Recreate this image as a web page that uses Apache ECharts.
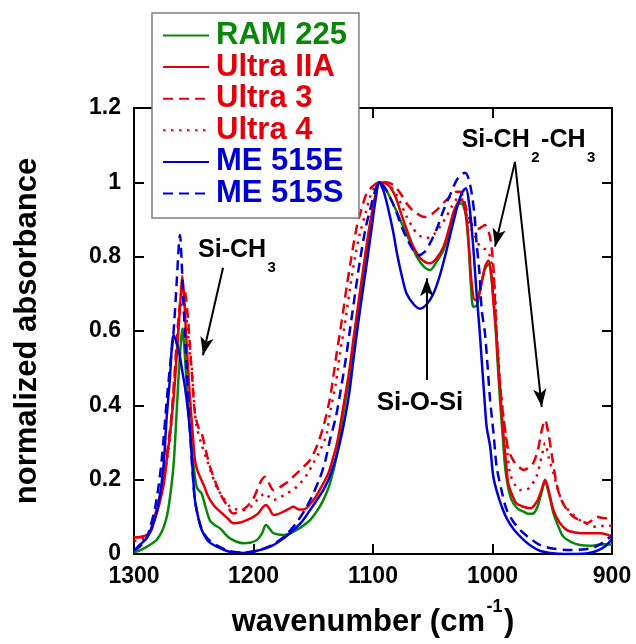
<!DOCTYPE html>
<html><head><meta charset="utf-8">
<script src="https://cdn.jsdelivr.net/npm/echarts@6/dist/echarts.min.js"></script>
<style>html,body{margin:0;padding:0;background:#fff}#c{width:636px;height:644px}</style>
</head><body><div id="c"></div>
<script>
// ---------------- data ----------------
const seriesNames = ['RAM 225', 'Ultra IIA', 'Ultra 3', 'Ultra 4', 'ME 515E', 'ME 515S'];
const xTickValues = [1300, 1200, 1100, 1000, 900];
const yTickValues = [0, 0.2, 0.4, 0.6, 0.8, 1, 1.2];

const ram225_wn = [1300,1295,1288,1281,1276,1272.6,1270,1267,1265,1263,1261,1259.6,1258,1256,1254,1251.7,1249.5,1247.5,1245.5,1243.4,1240,1236.4,1232,1228,1224,1219.7,1214,1208.5,1202,1197,1193,1189.5,1186,1183.4,1175,1170,1163.8,1158,1152.7,1147,1141.6,1136,1130,1124.9,1120,1116.5,1112,1108,1104,1101,1098,1094.7,1090,1085.8,1080,1074.6,1069,1063.4,1058,1052.3,1047,1041,1036,1032.8,1029,1026,1022.5,1020,1018,1016,1013,1010,1006.5,1003.4,1000.5,998,996,993.7,991.5,989.5,987,984,979,974,970,966,962,959,956,953,949,945,940.8,934,926.8,918,913,906,900];
const ram225_abs = [0.005,0.01,0.022,0.038,0.065,0.1,0.15,0.235,0.34,0.46,0.56,0.607,0.56,0.46,0.37,0.28,0.22,0.18,0.17,0.163,0.125,0.09,0.077,0.069,0.055,0.042,0.033,0.029,0.031,0.038,0.055,0.078,0.066,0.056,0.051,0.055,0.065,0.077,0.091,0.115,0.145,0.19,0.27,0.378,0.47,0.558,0.66,0.755,0.85,0.907,0.96,1.0,0.985,0.96,0.92,0.88,0.84,0.80,0.775,0.764,0.785,0.818,0.87,0.917,0.94,0.943,0.915,0.83,0.72,0.665,0.67,0.72,0.765,0.78,0.73,0.638,0.53,0.414,0.32,0.235,0.18,0.145,0.122,0.114,0.108,0.109,0.13,0.165,0.195,0.165,0.11,0.075,0.047,0.032,0.024,0.022,0.024,0.026,0.025];

const ultra2a_wn = [1300,1295,1290,1286,1283.8,1281,1278,1275,1272.6,1270,1267,1265,1263,1261,1259.6,1258,1256.5,1254.8,1253,1251,1249,1247,1244.8,1241,1237.8,1233,1228,1222,1217,1211,1205.7,1200,1196,1192.5,1189.5,1186,1183.4,1179,1175,1170,1166.7,1162,1158,1150,1145,1138.7,1136,1130,1124.9,1120,1116.5,1112,1108,1104,1101,1098,1094.5,1090,1085.8,1081,1077.4,1072,1066.3,1060,1052.3,1047,1041,1036,1032.8,1029,1025.9,1022.5,1020,1017.5,1014.7,1012,1009,1006,1003.4,1001,999.4,997,995,993,991,988.8,986.8,983,980,974,968.6,963,959,956,953,949,944,938,931,924,917,910,904,900];
const ultra2a_abs = [0.045,0.046,0.05,0.06,0.083,0.11,0.145,0.19,0.253,0.32,0.414,0.5,0.594,0.69,0.748,0.69,0.594,0.5,0.414,0.33,0.253,0.225,0.208,0.18,0.154,0.13,0.114,0.097,0.083,0.085,0.091,0.1,0.109,0.125,0.132,0.118,0.105,0.108,0.114,0.122,0.127,0.12,0.12,0.145,0.17,0.208,0.23,0.3,0.395,0.49,0.575,0.68,0.772,0.86,0.916,0.965,1.0,0.998,0.988,0.96,0.925,0.875,0.827,0.795,0.782,0.795,0.827,0.88,0.917,0.945,0.952,0.92,0.84,0.73,0.683,0.69,0.73,0.775,0.79,0.755,0.683,0.6,0.504,0.41,0.325,0.25,0.19,0.155,0.136,0.127,0.123,0.14,0.172,0.2,0.17,0.118,0.085,0.065,0.058,0.056,0.056,0.056,0.052,0.047];

const ultra3_wn = [1300,1295,1290,1286,1284,1281,1278,1275,1272,1269,1267,1264.5,1262,1259,1257,1255,1253,1251,1249,1246,1243.4,1240,1236.4,1232,1228,1222,1217,1211,1205.7,1200,1196,1193,1190.4,1187,1183.4,1179,1175,1170,1163.8,1158,1152.7,1147,1141.6,1136,1130.4,1126,1122,1118,1113.6,1109,1105.3,1100,1095,1089,1083,1077,1071.8,1067,1063.4,1060,1056.5,1052,1046.7,1041,1035.6,1030,1027,1024,1021.7,1019,1016,1012,1009,1006.3,1003,1000.8,999,998,996.5,995,993,991,988.8,986.8,984,981,977,974,970,966,962,959,956,953,950.5,947,943.5,938,932.4,926,921,917,913,908,904.5,900];
const ultra3_abs = [0.045,0.045,0.05,0.065,0.09,0.12,0.16,0.21,0.28,0.36,0.44,0.56,0.66,0.72,0.70,0.64,0.55,0.46,0.378,0.34,0.325,0.28,0.235,0.195,0.163,0.13,0.109,0.115,0.127,0.15,0.18,0.2,0.208,0.19,0.172,0.178,0.186,0.198,0.217,0.235,0.253,0.29,0.342,0.42,0.54,0.63,0.72,0.80,0.88,0.935,0.97,0.99,1.0,1.0,0.993,0.97,0.943,0.925,0.917,0.91,0.907,0.912,0.925,0.945,0.961,0.975,0.975,0.955,0.925,0.9,0.88,0.875,0.88,0.885,0.865,0.827,0.76,0.683,0.59,0.504,0.43,0.37,0.32,0.28,0.26,0.244,0.232,0.226,0.232,0.244,0.28,0.33,0.36,0.32,0.27,0.2,0.154,0.12,0.10,0.09,0.083,0.09,0.1,0.097,0.096,0.1];

const ultra4_wn = [1300,1295,1290,1286,1284,1281,1278,1275,1272,1269,1267,1264.5,1262,1259,1257,1255,1253,1251.7,1249.5,1247.5,1243,1239,1235,1230.8,1225,1219.7,1214,1208.5,1202,1197,1193,1190,1186.5,1183.4,1178,1172.2,1166,1161,1155,1150,1144,1138.7,1136,1131,1127.6,1123,1119,1115,1110.9,1106,1102.5,1099,1095,1089,1083,1077,1071.8,1067,1063.4,1059,1055,1049,1044,1039,1034.3,1030,1027,1024,1021,1018,1016,1013,1010.5,1007.5,1004.9,1002,999.4,997.5,996.5,995,993.7,991.5,989.5,987.5,985.3,981,977,973,968.6,963,959,956,953,949,945,940.8,934,926.8,920,913,906,900];
const ultra4_abs = [0.035,0.038,0.045,0.06,0.08,0.11,0.15,0.2,0.26,0.34,0.43,0.54,0.64,0.69,0.66,0.6,0.53,0.504,0.4,0.342,0.29,0.253,0.215,0.18,0.15,0.127,0.12,0.118,0.128,0.145,0.158,0.163,0.152,0.145,0.152,0.163,0.175,0.19,0.215,0.244,0.28,0.325,0.38,0.46,0.54,0.63,0.72,0.8,0.863,0.92,0.96,0.985,1.0,0.997,0.98,0.945,0.907,0.88,0.863,0.853,0.85,0.86,0.88,0.905,0.934,0.955,0.96,0.94,0.905,0.875,0.863,0.845,0.827,0.822,0.818,0.8,0.755,0.68,0.594,0.53,0.46,0.39,0.325,0.27,0.217,0.185,0.172,0.172,0.18,0.21,0.26,0.298,0.26,0.217,0.17,0.136,0.11,0.091,0.08,0.073,0.076,0.076];

const me515e_wn = [1300,1295,1290,1286.6,1282,1278,1275,1272.6,1270,1268.5,1267,1264,1261.5,1259.5,1257.4,1255,1253,1251,1249,1246,1243.4,1238,1230.8,1220,1209,1198,1186,1178,1169.5,1160,1152.7,1146,1141.6,1136,1130,1124.9,1120,1116.5,1112,1108,1104,1101,1098,1094.7,1091,1087,1083,1080,1076,1071.8,1066,1060.7,1055,1049.5,1044,1038.4,1033,1028.7,1025,1022.2,1019.5,1017.5,1015.5,1013.3,1011,1009,1007,1004.9,1002,999.4,996.5,992,988,982,974,967,960,950,940,930,920,913,906,900];
const me515e_abs = [0.008,0.025,0.04,0.06,0.1,0.164,0.25,0.37,0.47,0.55,0.589,0.565,0.53,0.49,0.45,0.39,0.325,0.23,0.145,0.095,0.065,0.035,0.02,0.006,0.003,0.008,0.02,0.035,0.056,0.085,0.118,0.15,0.172,0.21,0.27,0.342,0.43,0.52,0.63,0.72,0.81,0.88,0.95,1.0,0.975,0.925,0.865,0.81,0.75,0.70,0.672,0.66,0.672,0.70,0.75,0.818,0.89,0.943,0.975,0.984,0.94,0.88,0.80,0.70,0.61,0.52,0.43,0.342,0.29,0.21,0.17,0.125,0.095,0.065,0.038,0.02,0.008,0.002,0.0,0.0,0.002,0.008,0.02,0.04];

const me515s_wn = [1300,1295,1290,1286.6,1282,1278,1275.5,1272.6,1270,1267,1264.3,1262.5,1261.5,1260.3,1258.7,1256,1253,1251,1249,1246,1243,1238,1230,1220,1209,1198,1186,1175,1165,1155,1145,1140,1136,1131,1127.6,1123,1119,1115,1110.9,1106,1102.5,1098.5,1094.7,1090,1085.8,1081,1076,1071,1066.3,1062,1057,1052.3,1046,1041,1035,1030,1026,1023,1020,1017.4,1015,1013.3,1011,1009,1006.3,1004,1002,999,996.5,992,988,981,974,967,960,950,938,925,915,908,900];
const me515s_abs = [0.01,0.02,0.04,0.07,0.13,0.218,0.3,0.414,0.5,0.594,0.73,0.83,0.858,0.8,0.68,0.504,0.325,0.22,0.145,0.095,0.065,0.04,0.022,0.008,0.004,0.008,0.022,0.045,0.08,0.13,0.2,0.25,0.307,0.37,0.43,0.52,0.61,0.7,0.79,0.88,0.925,0.975,1.0,0.985,0.96,0.925,0.88,0.845,0.818,0.804,0.812,0.836,0.88,0.925,0.97,1.006,1.02,1.026,1.01,0.97,0.91,0.836,0.76,0.656,0.594,0.5,0.414,0.32,0.235,0.165,0.118,0.08,0.056,0.038,0.024,0.015,0.011,0.012,0.018,0.03,0.05];

// annotation anchors (wavenumber, absorbance)
const arrowSegments = [
  [[1225.5, 0.77], [1242.3, 0.535]],
  [[1055, 0.468], [1055, 0.742]],
  [[981.2, 1.055], [997.9, 0.827]],
  [[981.2, 1.055], [958.8, 0.396]]
];

// ---------------- styling ----------------
const FONT = '"Liberation Sans", Arial, Helvetica, sans-serif';
const GREEN = '#0a870a', RED = '#e4000a', BLUE = '#0000d2';
const colors = [GREEN, RED, RED, RED, BLUE, BLUE];
const dashes = ['solid', 'solid', [10, 6], [2.5, 5.5], 'solid', [10, 6]];
const wnArrays = [ram225_wn, ultra2a_wn, ultra3_wn, ultra4_wn, me515e_wn, me515s_wn];
const absArrays = [ram225_abs, ultra2a_abs, ultra3_abs, ultra4_abs, me515e_abs, me515s_abs];

function pairs(xs, ys) { return xs.map((x, i) => [x, ys[i]]); }

const chart = echarts.init(document.getElementById('c'), null, {renderer: 'canvas'});

const axisLine = {show: true, onZero: false, lineStyle: {color: '#000', width: 2}};
const axisTick = {show: true, inside: true, length: 10, lineStyle: {color: '#000', width: 2}};
const labelStyle = {color: '#000', fontSize: 23, fontWeight: 'bold', fontFamily: FONT};
const fmt = v => String(Number(Number(v).toFixed(1)));

const series = seriesNames.map((n, i) => ({
  name: n, type: 'line', data: pairs(wnArrays[i], absArrays[i]),
  symbol: 'none', showSymbol: false, smooth: 0.3, clip: true,
  lineStyle: {color: colors[i], width: 2.5, type: dashes[i]},
  itemStyle: {color: colors[i]},
  emphasis: {disabled: true}
}));
series.push({
  name: 'arrows', type: 'line', data: [], silent: true,
  markLine: {
    silent: true, animation: false, symbol: ['none', 'arrow'], symbolSize: [10, 18],
    label: {show: false}, emphasis: {disabled: true},
    lineStyle: {color: '#000', width: 2, type: 'solid'},
    data: arrowSegments.map(s => [{coord: s[0]}, {coord: s[1]}])
  }
});

const option = {
  animation: false,
  backgroundColor: '#fff',
  grid: {left: 134, right: 24, top: 108, bottom: 90, containLabel: false, outerBoundsMode: 'none'},
  legend: {
    data: seriesNames.map((n, i) => ({name: n, textStyle: {color: colors[i]}})),
    orient: 'vertical', left: 152, top: 13, selectedMode: false,
    backgroundColor: '#fff', borderColor: '#7f7f7f', borderWidth: 1.5,
    padding: [7, 12, 9, 10], itemWidth: 46, itemHeight: 30, itemGap: 0.6,
    itemStyle: {opacity: 0},
    textStyle: {fontSize: 31, fontWeight: 'bold', fontFamily: FONT, lineHeight: 30, padding: [0, 0, 0, 2]}
  },
  xAxis: [
    {type: 'value', min: 900, max: 1300, interval: 100, inverse: true, position: 'bottom',
     axisLine, axisTick, splitLine: {show: false},
     axisLabel: Object.assign({margin: 11, formatter: fmt}, labelStyle)},
    {type: 'value', min: 900, max: 1300, interval: 100, inverse: true, position: 'top',
     axisLine, axisTick, splitLine: {show: false}, axisLabel: {show: false}}
  ],
  yAxis: [
    {type: 'value', min: 0, max: 1.2, interval: 0.2, position: 'left',
     axisLine, axisTick, splitLine: {show: false},
     axisLabel: Object.assign({margin: 13, formatter: fmt}, labelStyle)},
    {type: 'value', min: 0, max: 1.2, interval: 0.2, position: 'right',
     axisLine, axisTick, splitLine: {show: false}, axisLabel: {show: false}}
  ],
  series
};
chart.setOption(option);

// ---------------- text (titles + annotations) ----------------
const mctx = document.createElement('canvas').getContext('2d');
function tw(t, size) { mctx.font = 'bold ' + size + 'px "Liberation Sans"'; return mctx.measureText(t).width; }
function txt(t, x, y, size, align, extra) {
  return Object.assign({
    type: 'text', x, y, silent: true, z: 100,
    style: {text: t, fill: '#000', font: 'bold ' + size + 'px ' + FONT,
            align: align || 'left', verticalAlign: 'middle',
            textAlign: align || 'left', textVerticalAlign: 'middle'}
  }, extra || {});
}
// pieces: [text, size, dy]
function pieces(list, x, y, centered) {
  const gap = 1.5;
  let total = 0;
  list.forEach((p, i) => { total += tw(p[0], p[1]) + (i ? gap : 0); });
  let cx = centered ? x - total / 2 : x;
  const out = [];
  list.forEach((p, i) => {
    if (i) cx += gap;
    out.push(txt(p[0], cx, y + p[2], p[1], 'left'));
    cx += tw(p[0], p[1]);
  });
  return out;
}
const px = (w, v) => chart.convertToPixel({xAxisIndex: 0, yAxisIndex: 0}, [w, v]);

const g = [];
const a1 = px(1246.4, 0.818);
g.push(...pieces([['Si-CH', 25, 0], ['3', 15, 18]], a1[0], a1[1], false));
const a2 = px(1060.7, 0.406);
g.push(txt('Si-O-Si', a2[0], a2[1], 26, 'center'));
const a3 = px(1025.8, 1.114);
g.push(...pieces([['Si-CH', 25, 0], ['2', 15, 18], ['-CH', 25, 0], ['3', 15, 18]], a3[0], a3[1], false));

// axis titles
const gl = px(1300, 0), gr = px(900, 1.2);
const midX = (gl[0] + gr[0]) / 2, midY = (gl[1] + gr[1]) / 2;
g.push(...pieces([['wavenumber (cm', 31, 0], ['-1', 18, -15], [')', 31, 0]], midX, gl[1] + 68, true));
g.push(txt('normalized absorbance', 27, midY, 31, 'center', {rotation: Math.PI / 2}));

chart.setOption({graphic: g});
</script>
</body></html>
